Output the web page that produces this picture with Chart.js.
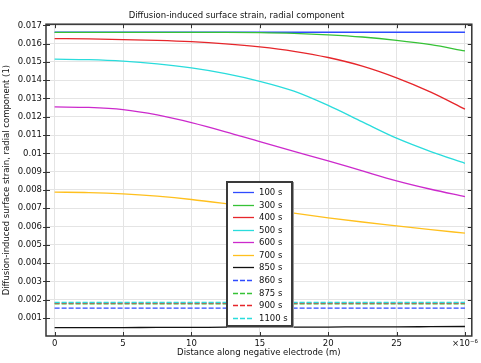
<!DOCTYPE html>
<html>
<head>
  <meta charset="utf-8">
  <title>Diffusion-induced surface strain</title>
  <script src="https://cdn.jsdelivr.net/npm/chart.js@4.4.1/dist/chart.umd.min.js"></script>
  <style>
    html, body { margin: 0; padding: 0; background: #fff; }
    #wrap { position: relative; width: 481px; height: 363px; }
    #legend {
      position: absolute; left: 226px; top: 181px; width: 63px; height: 142px;
      border: 2px solid #3a3a3a; box-shadow: 1px 1px 0 #999; background: #fff;
      font: 8.5px "DejaVu Sans", sans-serif; color: #111;
    }
    .row { position: absolute; left: 5px; height: 12px; line-height: 12px; white-space: nowrap; }
    .row svg { position: absolute; left: 0; top: 0; }
    .row span { position: absolute; left: 26px; top: 0; }
  </style>
</head>
<body>
<div id="wrap">
  <canvas id="c" width="481" height="363"></canvas>
  <div id="legend"></div>
</div>
<script>
  // x positions (x 1e-6 m)
  var xPos = [0, 2.5, 5, 7.5, 10, 12.5, 15, 17.5, 20, 22.5, 25, 27.5, 30];

  var s100  = [0.01662, 0.01662, 0.01662, 0.01662, 0.01662, 0.01662, 0.01662, 0.01662, 0.01662, 0.01662, 0.01662, 0.01662, 0.01662];
  var s300  = [0.01661, 0.01661, 0.01661, 0.01661, 0.01661, 0.01661, 0.01660, 0.01656, 0.01648, 0.01636, 0.01618, 0.01594, 0.01560];
  var s400  = [0.01627, 0.01626, 0.01622, 0.01618, 0.01611, 0.01599, 0.01582, 0.01558, 0.01524, 0.01477, 0.01413, 0.01335, 0.01242];
  var s500  = [0.01515, 0.01512, 0.01504, 0.01489, 0.01467, 0.01436, 0.01394, 0.01340, 0.01262, 0.01172, 0.01083, 0.01010, 0.00946];
  var s600  = [0.01254, 0.01251, 0.01239, 0.01210, 0.01168, 0.01118, 0.01064, 0.01011, 0.00959, 0.00904, 0.00850, 0.00804, 0.00764];
  var s700  = [0.00788, 0.00786, 0.00779, 0.00766, 0.00748, 0.00725, 0.00700, 0.00673, 0.00648, 0.00625, 0.00604, 0.00583, 0.00564];
  var s850  = [0.00048, 0.00048, 0.00048, 0.00049, 0.00049, 0.00050, 0.00050, 0.00051, 0.00051, 0.00052, 0.00052, 0.00053, 0.00054];
  var s860  = [0.00154, 0.00154, 0.00154, 0.00154, 0.00154, 0.00154, 0.00154, 0.00154, 0.00154, 0.00154, 0.00154, 0.00154, 0.00154];
  var s875  = [0.00178, 0.00178, 0.00178, 0.00178, 0.00178, 0.00178, 0.00178, 0.00178, 0.00178, 0.00178, 0.00178, 0.00178, 0.00178];
  var s900  = [0.00182, 0.00182, 0.00182, 0.00182, 0.00182, 0.00182, 0.00182, 0.00182, 0.00182, 0.00182, 0.00182, 0.00182, 0.00182];
  var s1100 = [0.00185, 0.00185, 0.00185, 0.00185, 0.00185, 0.00185, 0.00185, 0.00185, 0.00185, 0.00185, 0.00185, 0.00185, 0.00185];

  var seriesNames = ["100 s", "300 s", "400 s", "500 s", "600 s", "700 s", "850 s", "860 s", "875 s", "900 s", "1100 s"];
  var seriesData = [s100, s300, s400, s500, s600, s700, s850, s860, s875, s900, s1100];
  var xTicks = [0, 5, 10, 15, 20, 25, 30];

  var colors = ["#2f4bff", "#36c236", "#e6262b", "#2adcdc", "#cc2acc", "#ffc01e", "#111111",
                "#2f4bff", "#36c236", "#e6262b", "#2adcdc"];
  var dashed = [false, false, false, false, false, false, false, true, true, true, true];

  var FONT = "DejaVu Sans";

  var datasets = seriesNames.map(function(name, i) {
    return {
      label: name,
      data: seriesData[i].map(function(v, k) { return {x: xPos[k], y: v}; }),
      borderColor: colors[i],
      borderWidth: 1.3,
      borderDash: dashed[i] ? [5, 2] : [],
      pointRadius: 0,
      cubicInterpolationMode: "monotone",
      fill: false,
      order: seriesNames.length - i
    };
  });

  // frame + tick marks round the plot area
  var frame = {
    id: "frame",
    afterDraw: function(chart) {
      var ctx = chart.ctx, a = chart.chartArea;
      var xs = chart.scales.x, ys = chart.scales.y;
      ctx.save();
      ctx.strokeStyle = "#333";
      ctx.lineWidth = 1;
      ctx.beginPath();
      ys.ticks.forEach(function(t) {
        var y = Math.round(ys.getPixelForValue(t.value)) + 0.5;
        ctx.moveTo(a.left - 3, y); ctx.lineTo(a.left + 4, y);
        ctx.moveTo(a.right - 4, y); ctx.lineTo(a.right, y);
      });
      xs.ticks.forEach(function(t) {
        var x = Math.round(xs.getPixelForValue(t.value)) + 0.5;
        ctx.moveTo(x, a.bottom); ctx.lineTo(x, a.bottom - 4);
        ctx.moveTo(x, a.top); ctx.lineTo(x, a.top + 4);
      });
      ctx.stroke();
      ctx.lineWidth = 1.5;
      ctx.strokeRect(a.left, a.top, a.right - a.left, a.bottom - a.top);
      ctx.restore();
    }
  };

  new Chart(document.getElementById("c"), {
    type: "line",
    data: { datasets: datasets },
    plugins: [frame],
    options: {
      responsive: false,
      devicePixelRatio: 1,
      animation: false,
      layout: { padding: { left: 0, right: 8, top: 0, bottom: 0 } },
      plugins: {
        legend: { display: false },
        tooltip: { enabled: false },
        title: {
          display: true,
          text: "Diffusion-induced surface strain, radial component",
          color: "#111",
          font: { family: FONT, size: 8.5, weight: "normal" },
          padding: { top: 11, bottom: 3 }
        }
      },
      scales: {
        x: {
          type: "linear",
          min: -0.63, max: 30.5,
          afterBuildTicks: function(s) { s.ticks = xTicks.map(function(v) { return {value: v}; }); },
          afterFit: function(s) { s.height = 27; },
          grid: { color: "#e4e4e4", drawTicks: false },
          border: { display: false },
          ticks: {
            color: "#111", padding: 3,
            font: { family: FONT, size: 8.5 },
            maxRotation: 0,
            callback: function(v) { return v === 30 ? "\u00d710\u207b\u2076" : String(v); }
          },
          title: {
            display: true, text: "Distance along negative electrode (m)", color: "#111",
            font: { family: FONT, size: 8.5 }, padding: { top: 0, bottom: 5 }
          }
        },
        y: {
          type: "linear",
          min: 0.00002, max: 0.01706,
          ticks: {
            stepSize: 0.001, includeBounds: false, color: "#111", padding: 4,
            font: { family: FONT, size: 8.5 },
            callback: function(v) { return String(Number(v.toFixed(3))); }
          },
          afterFit: function(s) { s.width = 46; },
          grid: { color: "#e4e4e4", drawTicks: false },
          border: { display: false },
          title: {
            display: true, text: "Diffusion-induced surface strain, radial component (1)", color: "#111",
            font: { family: FONT, size: 8.5 }, padding: { top: 2, bottom: 0 }
          }
        }
      }
    }
  });

  // legend as html
  var lg = document.getElementById("legend");
  seriesNames.forEach(function(name, i) {
    var row = document.createElement("div");
    row.className = "row";
    row.style.top = (3 + i * 12.57) + "px";
    row.innerHTML = '<svg width="22" height="12"><line x1="0" y1="6.5" x2="21" y2="6.5" stroke="' + colors[i] +
      '" stroke-width="1.3"' + (dashed[i] ? ' stroke-dasharray="5 2"' : '') + '/></svg><span>' + name + '</span>';
    lg.appendChild(row);
  });
</script>
</body>
</html>
